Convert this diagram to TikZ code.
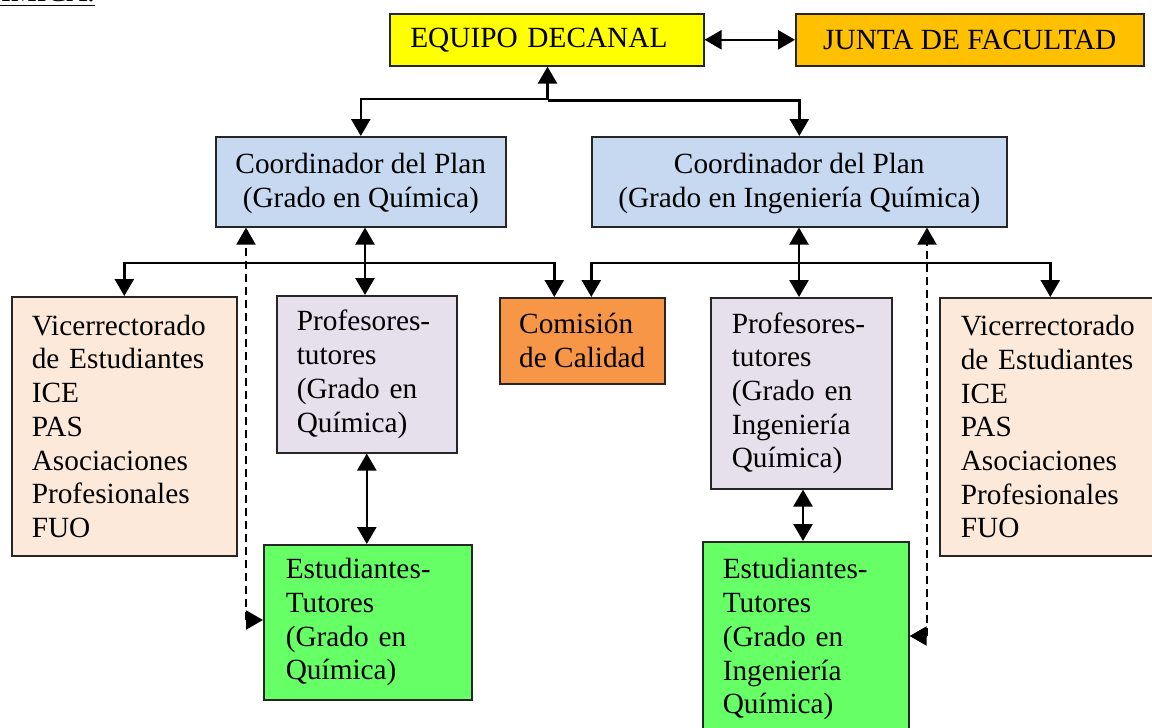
\documentclass[tikz,border=0pt]{standalone}
\usepackage{fontspec}
\setmainfont{Liberation Serif}
\usetikzlibrary{arrows.meta,calc}
\definecolor{cyel}{HTML}{FFFF00}
\definecolor{cjun}{HTML}{FFC000}
\definecolor{ccoo}{HTML}{C6D9F1}
\definecolor{cvic}{HTML}{FDE9D9}
\definecolor{cpro}{HTML}{E5E0EC}
\definecolor{ccom}{HTML}{F79646}
\definecolor{cest}{HTML}{66FF66}
\begin{document}
\begin{tikzpicture}[x=1pt,y=-1pt,
  font=\fontsize{29.3}{33.7}\selectfont,
  box/.style={draw=black!85, line width=1.6pt, inner sep=0pt, anchor=north west, align=left},
  arr/.style={line width=2.6pt, -{Triangle[width=19pt,length=17pt]}},
  dbl/.style={line width=2.6pt, {Triangle[width=19pt,length=17pt]}-{Triangle[width=19pt,length=17pt]}},
  dsh/.style={line width=2pt, dash pattern=on 8pt off 5pt, -{Triangle[width=19pt,length=17pt]}}]
\useasboundingbox (0,0) rectangle (1152,728);
\clip (0,0) rectangle (1152,728);
% heading fragment
\node[anchor=base east, inner sep=0pt] (hd) at (95,1.8) {QUÍMICA.};
\draw[line width=1.5pt] ($(hd.base west)+(0,3.8)$) -- ($(hd.base east)+(0,3.8)$);
% boxes
\node[box, fill=cyel, minimum width=314pt, minimum height=52pt, text width=273pt] (eq) at (389,13) {EQUIPO DECANAL};
\node[box, fill=cjun, minimum width=348pt, minimum height=52pt, align=center] (junta) at (795,13) {JUNTA DE FACULTAD};
\node[box, fill=ccoo, minimum width=290pt, minimum height=90pt, align=center] (c1) at (215,136) {\rule{0pt}{24pt}Coordinador del Plan\\(Grado en Química)};
\node[box, fill=ccoo, minimum width=415pt, minimum height=90pt, align=center] (c2) at (591,136) {\rule{0pt}{24pt}Coordinador del Plan\\(Grado en Ingeniería Química)};
\node[box, fill=cvic, minimum width=225pt, minimum height=259pt, text width=185pt] (v1) at (11,296) {Vicerrectorado\\de Estudiantes\\ICE\\PAS\\Asociaciones\\Profesionales\\FUO};
\node[box, fill=cpro, minimum width=180pt, minimum height=157pt, text width=140pt] (p1) at (276,295) {Profesores-\\tutores\\(Grado en\\Química)};
\node[box, fill=ccom, minimum width=165pt, minimum height=86pt] (com) at (499,297) {Comisión\\de Calidad};
\node[box, fill=cpro, minimum width=181pt, minimum height=191pt, text width=139pt] (p2) at (710,297) {Profesores-\\tutores\\(Grado en\\Ingeniería\\Química)};
\node[box, fill=cvic, minimum width=221pt, minimum height=258pt, text width=179pt] (v2) at (939,297) {Vicerrectorado\\de Estudiantes\\ICE\\PAS\\Asociaciones\\Profesionales\\FUO};
\node[box, fill=cest, minimum width=208pt, minimum height=155pt, text width=164pt] (e1) at (263,544) {Estudiantes-\\Tutores\\(Grado en\\Química)};
\node[box, fill=cest, minimum width=206pt, minimum height=195pt, text width=166pt] (e2) at (702,541) {Estudiantes-\\Tutores\\(Grado en\\Ingeniería\\Química)};
% connectors top
\draw[dbl] (eq) -- (junta);
\coordinate (j1) at (547.5,99);
\coordinate (j2) at (547.5,100.5);
\draw[arr] (j1) -- (j1 |- eq.south);
\draw[arr] (j1) -| (c1.north);
\draw[arr] (j2) -| (c2.north);
% left bus
\coordinate (b1) at (365,263);
\draw[arr] (b1) -- (b1 |- c1.south);
\draw[arr] (b1) -- (b1 |- p1.north);
\draw[arr] (b1) -| (v1.north);
\draw[arr] (b1) -| ($(com.north)+(-28,0)$);
% right bus
\coordinate (b2) at (799,263);
\draw[arr] (b2) -- (b2 |- c2.south);
\draw[arr] (b2) -- (b2 |- p2.north);
\draw[arr] (b2) -| (v2.north);
\draw[arr] (b2) -| ($(com.north)+(9,0)$);
% dashed links
\coordinate (d1) at (246,620);
\draw[dsh] (d1) -- (d1 |- c1.south);
\draw[dsh] (d1) -- (d1 -| e1.west);
\coordinate (d2) at (927,636);
\draw[dsh] (d2) -- (d2 |- c2.south);
\draw[dsh] (d2) -- (d2 -| e2.east);
% professors to students
\draw[dbl] (p1.south) -- (p1.south |- e1.north);
\coordinate (pe2) at (803,541);
\draw[dbl] (pe2 |- p2.south) -- (pe2 |- e2.north);
\end{tikzpicture}
\end{document}
